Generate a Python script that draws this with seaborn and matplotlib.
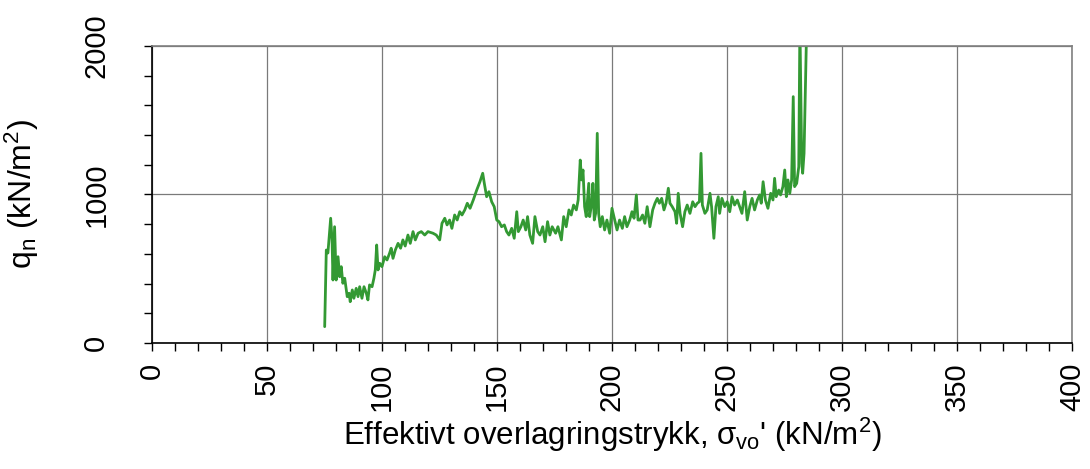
import seaborn as sns
import matplotlib.pyplot as plt
from matplotlib.ticker import MultipleLocator
import pandas as pd

sigma_vo = [75.1, 75.8, 76.5, 77.7, 78.3, 78.7, 79.4, 80.1, 80.9, 81.6, 82.3, 83.0, 83.8, 84.9,
            85.7, 86.2, 87.1, 87.8, 88.8, 89.6, 90.3, 91.3, 92.2, 93.2, 93.9, 94.6, 95.7, 96.5,
            97.1, 97.7, 98.3, 99.0, 100.0, 101.2, 102.2, 103.3, 104.0, 104.8, 105.8, 107.0,
            108.1, 109.1, 110.1, 111.3, 112.3, 113.5, 114.5, 115.7, 117.1, 118.6, 120.0, 122.2,
            123.6, 125.1, 126.1, 127.3, 128.3, 129.4, 130.4, 131.6, 132.7, 133.8, 134.8, 136.0,
            137.1, 138.3, 139.7, 141.2, 142.6, 143.8, 144.5, 145.5, 146.5, 147.7, 148.8, 149.9,
            150.9, 152.0, 153.2, 154.2, 155.2, 156.4, 157.5, 158.6, 159.3, 160.4, 161.4, 162.5,
            163.3, 164.3, 165.5, 166.5, 167.7, 168.7, 169.9, 170.9, 172.0, 173.0, 174.0, 175.5,
            176.5, 178.0, 179.0, 180.1, 181.3, 182.3, 183.3, 184.5, 185.3, 186.2, 186.8, 187.4,
            188.1, 188.8, 189.9, 190.3, 191.2, 191.7, 192.3, 192.9, 193.6, 194.2, 194.9, 195.8,
            196.8, 197.8, 199.0, 200.0, 201.2, 202.2, 203.3, 204.5, 205.5, 206.5, 207.7, 208.7,
            209.6, 210.6, 211.3, 212.2, 213.3, 214.3, 215.3, 216.5, 217.7, 218.7, 219.7, 220.6,
            221.6, 222.6, 223.5, 224.5, 225.2, 226.2, 227.4, 228.1, 228.8, 229.6, 230.7, 231.7,
            232.7, 233.9, 235.1, 236.1, 237.1, 238.0, 238.7, 239.3, 240.4, 241.4, 242.6, 243.3,
            244.3, 245.2, 246.2, 246.8, 247.8, 249.0, 250.1, 251.2, 252.2, 253.3, 254.5, 255.5,
            256.5, 257.7, 258.8, 259.9, 260.9, 262.0, 263.2, 264.2, 264.9, 265.7, 266.7, 267.8,
            269.0, 270.0, 270.7, 271.4, 272.5, 273.3, 274.3, 275.1, 275.8, 276.5, 277.3, 278.1,
            278.8, 279.4, 280.3, 281.2, 281.7, 282.5, 282.9, 283.5, 284.3, 284.6, 285.2]
q_n = [110, 626, 606, 840, 694, 424, 783, 424, 581, 446, 514, 402, 436, 312,
       335, 278, 357, 301, 368, 312, 379, 301, 379, 335, 290, 391, 379, 436,
       492, 660, 492, 537, 514, 581, 559, 604, 638, 570, 626, 671,
       638, 694, 653, 727, 671, 750, 694, 739, 750, 727, 750, 739,
       727, 694, 806, 840, 795, 828, 772, 862, 828, 884, 862, 896,
       941, 907, 963, 1030, 1086, 1143, 1075, 985, 1019, 951, 918, 828,
       817, 783, 795, 750, 727, 772, 705, 884, 750, 783, 828, 761,
       851, 727, 671, 851, 750, 727, 783, 682, 817, 727, 783, 739,
       783, 694, 851, 783, 896, 862, 929, 896, 963, 1232, 1098, 1165,
       918, 851, 1075, 851, 941, 1075, 828, 873, 1412, 873, 783, 851,
       761, 828, 739, 907, 828, 761, 828, 772, 851, 783, 828, 884,
       840, 997, 828, 828, 862, 806, 918, 783, 896, 941, 974, 941,
       974, 896, 941, 1042, 941, 918, 884, 806, 1008, 873, 783, 884,
       929, 873, 951, 918, 941, 951, 1277, 929, 873, 896, 1008, 918,
       705, 918, 985, 873, 974, 918, 951, 884, 985, 929, 963, 918,
       873, 1019, 828, 918, 974, 896, 963, 997, 941, 1086, 963, 907,
       1008, 963, 1109, 985, 1030, 997, 1053, 1165, 985, 1098, 1008, 1098,
       1659, 1053, 1075, 1187, 2150, 1210, 1143, 1277, 1861, 2100, 2100]

df = pd.DataFrame({'sigma': sigma_vo, 'qn': q_n})

sns.set_style('white', {'text.color': 'black', 'axes.labelcolor': 'black',
                        'xtick.color': 'black', 'ytick.color': 'black'})
plt.rcParams['font.family'] = ['Liberation Sans', 'DejaVu Sans']
plt.rcParams['mathtext.fontset'] = 'custom'
plt.rcParams['mathtext.rm'] = 'Liberation Sans'
plt.rcParams['mathtext.it'] = 'Liberation Sans:italic'

fig = plt.figure(figsize=(10.9, 4.69), dpi=100)
ax = fig.add_axes([0.1394, 0.2687, 0.8441, 0.6332])

sns.lineplot(data=df, x='sigma', y='qn', ax=ax, estimator=None, sort=False,
             color='#339933', linewidth=2.0)

ax.set_xlim(0, 400)
ax.set_ylim(0, 2000)
ax.xaxis.set_major_locator(MultipleLocator(50))
ax.xaxis.set_minor_locator(MultipleLocator(10))
ax.yaxis.set_major_locator(MultipleLocator(1000))
ax.yaxis.set_minor_locator(MultipleLocator(200))
ax.grid(True, which='major', color='#7a7a7a', linewidth=0.9)

ax.tick_params(which='both', direction='out', length=6, width=1, color='black',
               bottom=True, left=True)
ax.tick_params(axis='x', which='major', labelsize=21, pad=8, labelcolor='black')
ax.tick_params(axis='y', which='major', labelsize=21, pad=24, labelcolor='black')
for lbl in ax.get_xticklabels():
    lbl.set_rotation(90)
for lbl in ax.get_yticklabels():
    lbl.set_rotation(90)
    lbl.set_va('center')

for side in ['left', 'bottom']:
    ax.spines[side].set_color('black')
    ax.spines[side].set_linewidth(1.2)
for side in ['top', 'right']:
    ax.spines[side].set_color('#808080')
    ax.spines[side].set_linewidth(1.2)

ax.set_xlabel("Effektivt overlagringstrykk, σ$_{\\mathrm{vo}}$' (kN/m$^2$)",
              fontsize=22.5, labelpad=3, color='black')
ax.set_ylabel("q$_\\mathrm{n}$ (kN/m$^2$)", fontsize=23, labelpad=30, color='black')

plt.savefig('out.png', dpi=100)
